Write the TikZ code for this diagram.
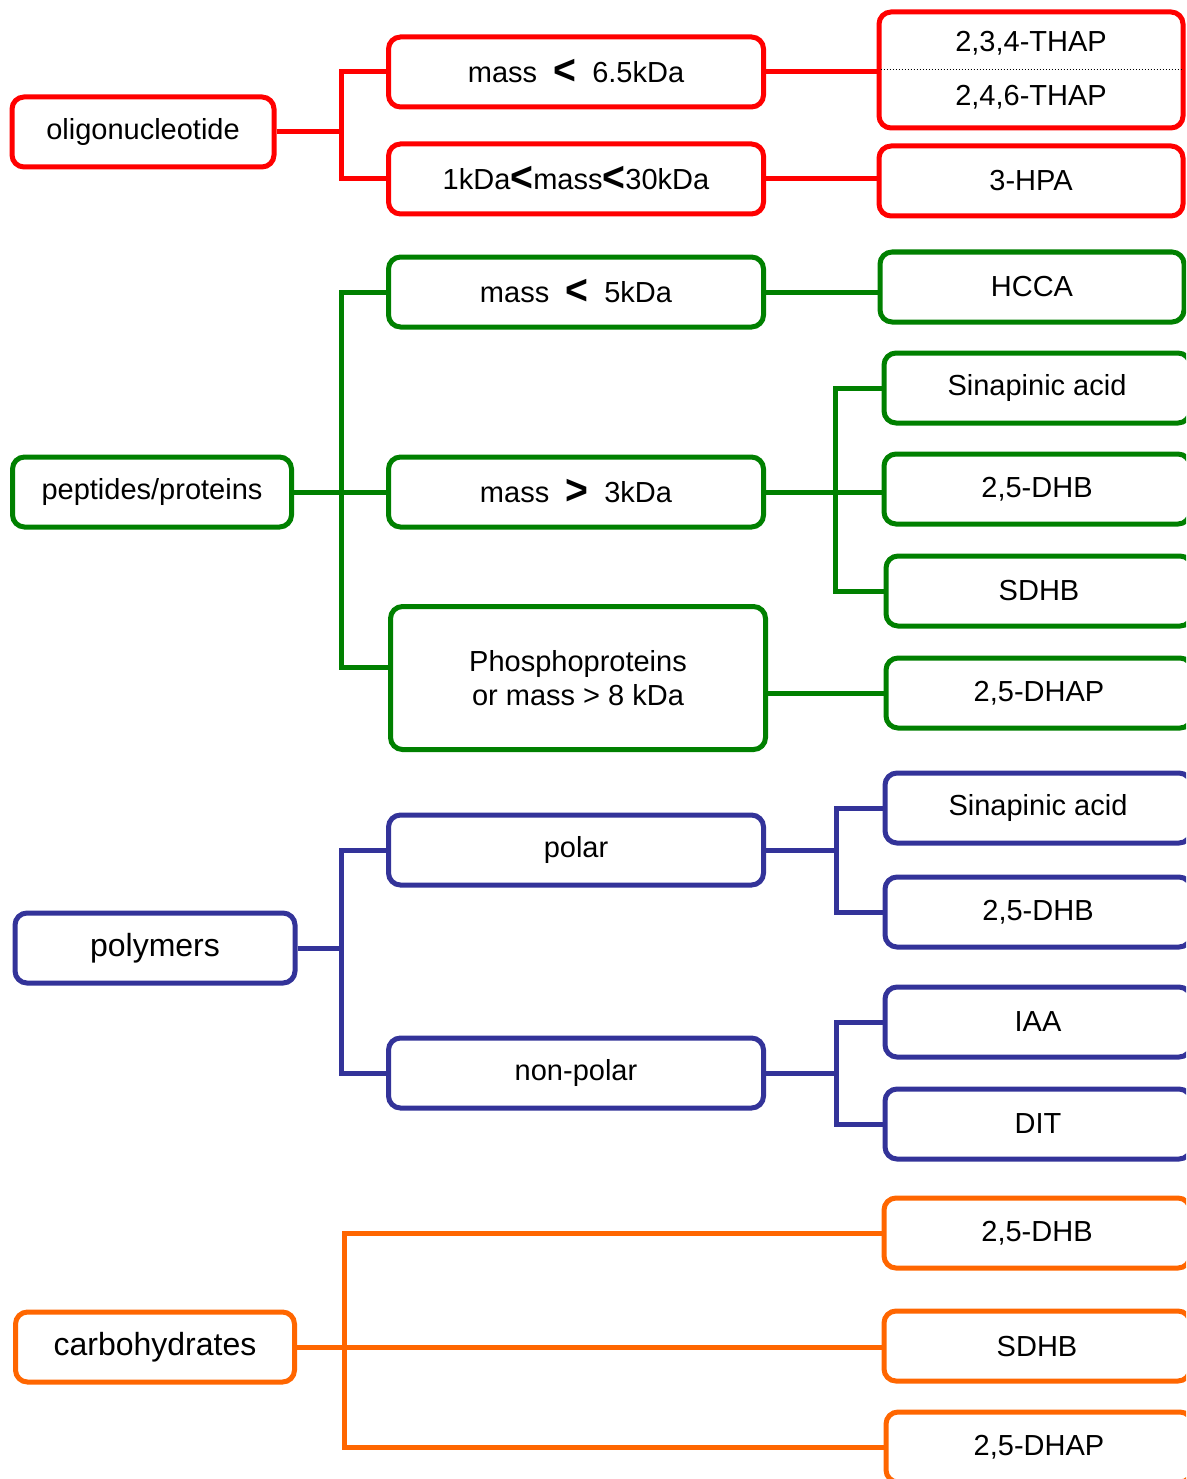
\documentclass[tikz,border=0pt]{standalone}
\usepackage{fontspec}
\setmainfont{Liberation Sans}
\usepackage{tikz}
\definecolor{oligored}{RGB}{255,0,0}
\definecolor{pepgreen}{RGB}{0,128,0}
\definecolor{polyblue}{RGB}{51,51,153}
\definecolor{carborange}{RGB}{255,102,0}
\newcommand{\chevl}{\raisebox{-2pt}{\scalebox{1.35}[1.45]{\bfseries <}}}
\newcommand{\chevr}{\raisebox{-2pt}{\scalebox{1.35}[1.45]{\bfseries >}}}

\begin{document}
\begin{tikzpicture}[x=1pt, y=-1pt, line width=5pt,
  every node/.style={rectangle, rounded corners=12pt, draw, line width=5pt, fill=white, text=black, inner sep=0pt, align=center, font=\fontsize{29}{34}\selectfont},
  classbox/.style={minimum width=280, minimum height=70},
  bigtext/.style={font=\fontsize{32}{38}\selectfont},
  condbox/.style={minimum width=375, minimum height=70},
  matrixbox/.style={minimum width=306, minimum height=70}]
\clip (0,0) rectangle (1186,1479);
\fill[white] (0,0) rectangle (1186,1479);

\begin{scope}[oligored]
\node[classbox, minimum width=262] (oligo) at (143,132) {oligonucleotide};
\node[condbox] (lt65) at (576,72) {mass ~\chevl~ 6.5kDa};
\node[condbox] (lt30) at (576,179) {1kDa\chevl mass\chevl 30kDa};
\node[matrixbox, minimum width=304, minimum height=116] (thap) at (1031,70) {2,3,4-THAP\\[20pt]2,4,6-THAP};
\node[matrixbox, minimum width=304] (hpa) at (1031,181) {3-HPA};
\coordinate (oj) at (341,132);
\draw (oligo.east) -- (oj);
\draw (lt65.west) -| (oj) |- (lt30.west);
\draw (lt65.east) -- (lt65.east -| thap.west);
\draw (lt30.east) -- (lt30.east -| hpa.west);
\draw[black, line width=1pt, dotted] ([xshift=4pt]thap.west) -- ([xshift=-4pt]thap.east);
\end{scope}

\begin{scope}[pepgreen]
\node[classbox, minimum width=279] (pep) at (152,492) {peptides/proteins};
\node[condbox] (lt5) at (576,292) {mass ~\chevl~ 5kDa};
\node[condbox] (gt3) at (576,492) {mass ~\chevr~ 3kDa};
\node[condbox, minimum height=143] (phos) at (578,678) {Phosphoproteins\\or mass > 8 kDa};
\node[matrixbox, minimum width=304] (hcca) at (1032,287) {HCCA};
\node[matrixbox] (sina1) at (1037,388) {Sinapinic acid};
\node[matrixbox] (dhb1) at (1037,489) {2,5-DHB};
\node[matrixbox] (sdhb1) at (1039,591) {SDHB};
\node[matrixbox] (dhap1) at (1039,693) {2,5-DHAP};
\coordinate (pj) at (341,492);
\coordinate (gj) at (835,492);
\draw (pep.east) -- (gt3.west);
\draw (lt5.west) -| (pj) |- ([yshift=11pt]phos.west);
\draw (lt5.east) -- (lt5.east -| hcca.west);
\draw (gt3.east) -- (gt3.east -| dhb1.west);
\draw (sina1.west) -| (gj) |- (sdhb1.west);
\draw (dhap1.west -| phos.east) -- (dhap1.west);
\end{scope}

\begin{scope}[polyblue]
\node[classbox, bigtext] (polym) at (155,948) {polymers};
\node[condbox] (polar) at (576,850) {polar};
\node[condbox] (nonpolar) at (576,1073) {non-polar};
\node[matrixbox] (sina2) at (1038,808) {Sinapinic acid};
\node[matrixbox] (dhb2) at (1038,912) {2,5-DHB};
\node[matrixbox] (iaa) at (1038,1022) {IAA};
\node[matrixbox] (dit) at (1038,1124) {DIT};
\coordinate (bj) at (341,951);
\coordinate (sj) at (836,854);
\coordinate (nj) at (836,1076);
\draw (polym.east) -- (polym.east -| bj);
\draw (polar.west) -| (bj) |- (nonpolar.west);
\draw (polar.east) -- (polar.east -| sj);
\draw (sina2.west) -| (sj) |- (dhb2.west);
\draw (nonpolar.east) -- (nonpolar.east -| nj);
\draw (iaa.west) -| (nj) |- (dit.west);
\end{scope}

\begin{scope}[carborange]
\node[classbox, minimum width=279, bigtext] (carb) at (155,1347) {carbohydrates};
\node[matrixbox] (dhb3) at (1037,1233) {2,5-DHB};
\node[matrixbox] (sdhb3) at (1037,1346) {SDHB};
\node[matrixbox] (dhap3) at (1039,1447) {2,5-DHAP};
\coordinate (cj) at (344,1347);
\draw (carb.east) -- (carb.east -| sdhb3.west);
\draw (dhb3.west) -| (cj) |- (dhap3.west);
\end{scope}
\end{tikzpicture}
\end{document}
